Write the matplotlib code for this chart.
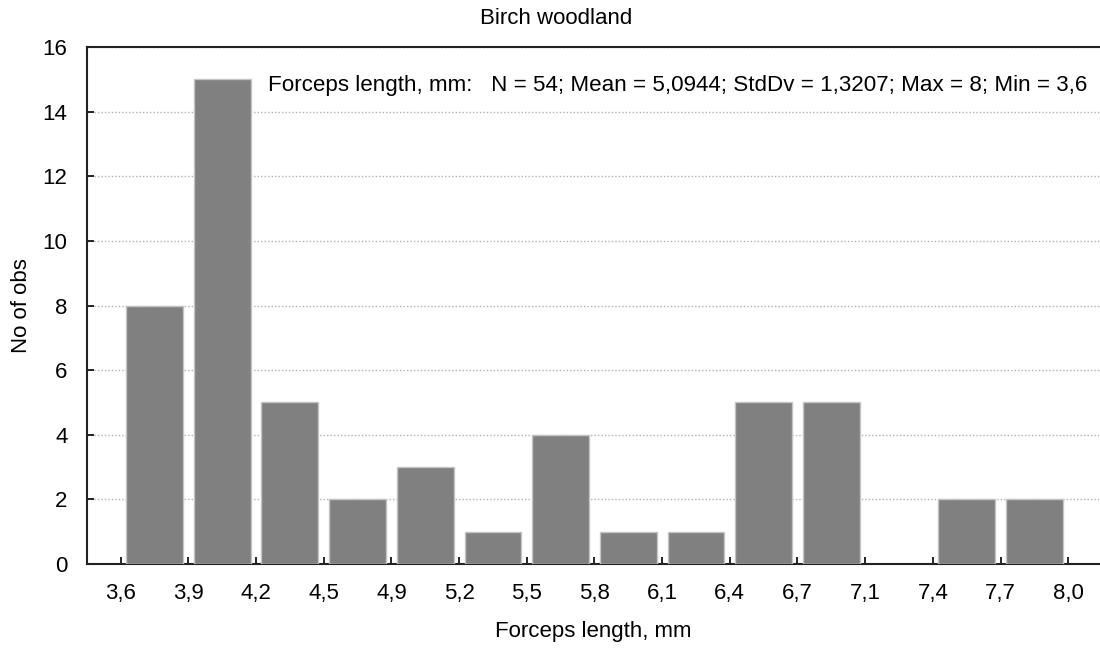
import numpy as np
import matplotlib
matplotlib.use("Agg")
from matplotlib import pyplot as plt

plt.rcParams['font.family'] = ['Liberation Sans', 'DejaVu Sans']

# histogram data
edge_labels = ["3,6", "3,9", "4,2", "4,5", "4,9", "5,2", "5,5", "5,8",
               "6,1", "6,4", "6,7", "7,1", "7,4", "7,7", "8,0"]
counts = [8, 15, 5, 2, 3, 1, 4, 1, 1, 5, 5, 0, 2, 2]
y_ticks = [0, 2, 4, 6, 8, 10, 12, 14, 16]

title = "Birch woodland"
stats_text = "Forceps length, mm:   N = 54; Mean = 5,0944; StdDv = 1,3207; Max = 8; Min = 3,6"
x_label = "Forceps length, mm"
y_label = "No of obs"

W, H = 1100, 648
fig = plt.figure(figsize=(11, 6.48), dpi=100)
ax = fig.add_axes([87 / W, (H - 564) / H, 1 - 87 / W, (564 - 47) / H])

x = np.arange(len(counts)) + 0.5
edges = ["#c4c4c4" if c > 0 else "none" for c in counts]  # empty bin: no outline
ax.bar(x, counts, width=0.84, color="#808080", edgecolor=edges,
       linewidth=1.0, zorder=3)

ax.set_xlim(-0.498, 14.47)
ax.set_ylim(0, 16)
ax.set_xticks(np.arange(len(edge_labels)))
ax.set_xticklabels(edge_labels)
ax.set_yticks(y_ticks)

ax.yaxis.grid(True, linestyle=(0, (1, 1.5)), color="#b0b0b0", linewidth=1.0, zorder=0)
ax.tick_params(axis="both", direction="in", length=5, width=1.2,
               labelsize=16, color="black")
ax.tick_params(axis="x", pad=14)
ax.tick_params(axis="y", pad=14)

for side in ["left", "top", "bottom"]:
    ax.spines[side].set_linewidth(1.5)
    ax.spines[side].set_color("#222222")
ax.spines["right"].set_visible(False)

fig.text(556 / W, 1 - 18 / H, title, ha="center", va="center", fontsize=16)
fig.text(268 / W, 1 - 85 / H, stats_text, ha="left", va="center", fontsize=16.1)
fig.text(593 / W, 1 - 631 / H, x_label, ha="center", va="center", fontsize=16)
fig.text(22 / W, 1 - 306 / H, y_label, ha="center", va="center",
         rotation=90, fontsize=16)

fig.savefig("out.png", dpi=100)
